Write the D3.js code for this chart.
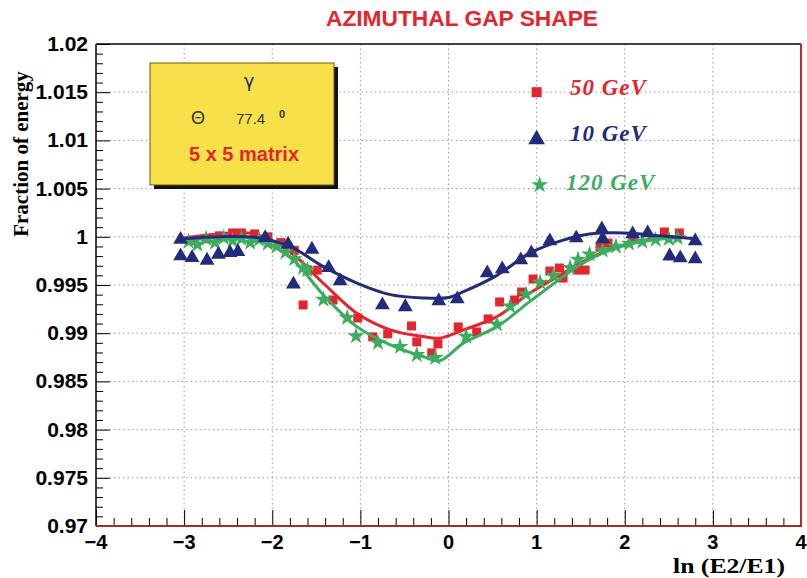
<!DOCTYPE html>
<html><head><meta charset="utf-8">
<script src="https://cdn.jsdelivr.net/npm/d3@7"></script>
<style>body{margin:0;background:#fff}svg{display:block}</style>
</head><body><svg id="c" width="807" height="578"></svg>
<script>
const xTicks = [-4,-3,-2,-1,0,1,2,3,4];
const yTicks = [0.97,0.975,0.98,0.985,0.99,0.995,1,1.005,1.01,1.015,1.02];
const yTickLabels = ["0.97","0.975","0.98","0.985","0.99","0.995","1","1.005","1.01","1.015","1.02"];

// 10 GeV (blue triangles)
const blueX = [-3.04,-3.04,-2.91,-2.74,-2.61,-2.48,-2.39,-2.08,-1.82,-1.76,-1.55,-1.36,-1.23,-0.75,-0.49,-0.11,0.10,0.44,0.61,0.82,0.94,1.15,1.45,1.74,1.75,2.09,2.26,2.51,2.63,2.80,2.80];
const blueY = [0.99983,0.99811,0.99793,0.99766,0.99828,0.99845,0.99855,1.0000,0.99932,0.99518,0.9988,0.9969,0.99552,0.99303,0.99283,0.99345,0.99365,0.99635,0.99676,0.99769,0.99842,0.99966,0.99997,1.0009,0.99987,1.0004,1.0005,0.9981,0.9979,0.99966,0.9978];
const blueFitX = [-3.0,-2.6,-2.2,-1.8,-1.42,-1.04,-0.66,-0.29,0.0,0.17,0.55,0.92,1.3,1.6,2.0,2.4,2.8];
const blueFitY = [0.9998,1.0000,0.99995,0.9990,0.9969,0.9952,0.9940,0.99365,0.9937,0.9943,0.9960,0.9983,0.99966,1.0003,1.0004,1.0001,0.9998];

// 50 GeV (red squares)
const redX = [-2.9,-2.75,-2.6,-2.45,-2.35,-2.2,-2.05,-1.9,-1.75,-1.65,-1.6,-1.49,-1.31,-1.03,-0.86,-0.69,-0.42,-0.36,-0.19,-0.12,0.11,0.32,0.45,0.58,0.75,0.83,0.96,1.15,1.26,1.30,1.46,1.55,1.72,1.81,2.1,2.45,2.62];
const redY = [0.9996,0.9998,1.0001,1.0004,1.0004,1.0003,1.0000,0.9994,0.9986,0.99293,0.99655,0.99655,0.99345,0.99158,0.98962,0.98993,0.99075,0.9891,0.98796,0.98889,0.99065,0.99013,0.99148,0.99324,0.99345,0.99427,0.99562,0.99645,0.99676,0.99572,0.99655,0.99655,0.99893,0.99935,0.9999,1.0005,1.0004];
const redFitX = [-3.0,-2.6,-2.2,-1.8,-1.42,-1.04,-0.66,-0.29,-0.10,0.17,0.55,0.92,1.30,1.49,1.8,2.2,2.6];
const redFitY = [0.9999,1.0003,1.0003,0.99845,0.99518,0.99207,0.99034,0.98965,0.98948,0.99034,0.99172,0.99414,0.99621,0.99725,0.9986,0.9996,1.0000];

// 120 GeV (green stars)
const greenX = [-2.95,-2.85,-2.75,-2.65,-2.55,-2.45,-2.35,-2.25,-2.15,-2.05,-1.95,-1.85,-1.75,-1.65,-1.6,-1.42,-1.15,-1.05,-0.8,-0.55,-0.36,-0.15,0.2,0.55,0.7,0.88,1.04,1.19,1.38,1.47,1.6,1.75,1.9,2.05,2.2,2.35,2.5,2.6];
const greenY = [0.9995,0.9992,0.9998,0.9994,0.9999,0.9996,0.9998,0.9994,0.9997,0.9993,0.9990,0.9984,0.9977,0.9968,0.99655,0.9935,0.9916,0.9897,0.9890,0.9886,0.98775,0.98745,0.98965,0.99092,0.99279,0.99403,0.99527,0.99596,0.99679,0.99765,0.9982,0.9986,0.9990,0.9993,0.9995,0.9997,0.9998,0.9999];
const greenFitX = [-3.0,-2.6,-2.2,-1.8,-1.42,-1.04,-0.66,-0.29,-0.10,0.17,0.55,0.92,1.30,1.49,1.8,2.2,2.6];
const greenFitY = [0.9996,0.9999,0.9998,0.99793,0.99397,0.99068,0.98879,0.98758,0.98715,0.98897,0.99068,0.99327,0.99586,0.99707,0.9985,0.9995,0.9999];

const legendLabels = ["50 GeV","10 GeV","120 GeV"];

const RED = "#e3262d", BLUE = "#232c7c", GREEN = "#3cad5e";
const svg = d3.select("#c");
const L = 96, R = 801, T = 44, B = 526;
const x = d3.scaleLinear().domain([-4,4]).range([L,R]);
const y = d3.scaleLinear().domain([0.97,1.02]).range([B,T]);

// grid
const g = svg.append("g");
g.selectAll("line.gx").data(xTicks.slice(1,-1)).join("line")
  .attr("x1",d=>x(d)).attr("x2",d=>x(d)).attr("y1",T).attr("y2",B)
  .attr("stroke","#9a9a9a").attr("stroke-width",1).attr("stroke-dasharray","1.5,3");
g.selectAll("line.gy").data(yTicks.slice(1,-1)).join("line")
  .attr("x1",L).attr("x2",R).attr("y1",d=>y(d)).attr("y2",d=>y(d))
  .attr("stroke","#9a9a9a").attr("stroke-width",1).attr("stroke-dasharray","1.5,3");

// axes
const xAxis = d3.axisBottom(x).tickValues(d3.range(-4,4.001,0.2)).tickSize(-8).tickFormat("");
svg.append("g").attr("transform",`translate(0,${B})`).call(xAxis)
  .call(s=>s.select(".domain").remove())
  .call(s=>s.selectAll(".tick line").attr("stroke","#000").attr("y2",(d)=>Math.abs(d-Math.round(d))<1e-6?-16:-8));
const yAxis = d3.axisLeft(y).tickValues(d3.range(0.97,1.0201,0.001)).tickSize(-7).tickFormat("");
svg.append("g").attr("transform",`translate(${L},0)`).call(yAxis)
  .call(s=>s.select(".domain").remove())
  .call(s=>s.selectAll(".tick line").attr("stroke","#000").attr("x2",(d)=>Math.abs(d*200-Math.round(d*200))<1e-6?14:7));

svg.append("line").attr("x1",L).attr("x2",R).attr("y1",T).attr("y2",T).attr("stroke","#000").attr("stroke-width",1.5);
svg.append("line").attr("x1",L).attr("x2",L).attr("y1",T).attr("y2",B).attr("stroke","#000").attr("stroke-width",1.5);
svg.append("line").attr("x1",R).attr("x2",R).attr("y1",T).attr("y2",B+1).attr("stroke","#c0282e").attr("stroke-width",2);
svg.append("line").attr("x1",L).attr("x2",R+1).attr("y1",B).attr("y2",B).attr("stroke","#a52a2a").attr("stroke-width",2);

// tick labels
svg.selectAll("text.xl").data(xTicks).join("text")
  .attr("x",d=>x(d)).attr("y",B+23).attr("text-anchor","middle")
  .attr("font-family","Liberation Sans, Arial, sans-serif").attr("font-weight","bold").attr("font-size",20)
  .text(d=>d<0?"\u2212"+Math.abs(d):d);
svg.selectAll("text.yl").data(yTicks).join("text")
  .attr("x",L-8).attr("y",(d)=>y(d)+7).attr("text-anchor","end")
  .attr("font-family","Liberation Sans, Arial, sans-serif").attr("font-weight","bold").attr("font-size",21)
  .text((d,i)=>yTickLabels[i]);

// axis titles
svg.append("text").attr("x",785).attr("y",573).attr("text-anchor","end")
  .attr("font-family","Liberation Serif, Times New Roman, serif").attr("font-weight","bold").attr("font-size",20)
  .attr("textLength",112).attr("lengthAdjust","spacingAndGlyphs")
  .text("ln (E2/E1)");
svg.append("text").attr("transform","translate(28,154) rotate(-90)").attr("text-anchor","middle")
  .attr("font-family","Liberation Serif, Times New Roman, serif").attr("font-weight","bold").attr("font-size",21)
  .text("Fraction of energy");

// title
svg.append("text").attr("x",462).attr("y",26).attr("text-anchor","middle")
  .attr("font-family","Liberation Sans Narrow, Arial Narrow, Liberation Sans, sans-serif").attr("font-weight","bold").attr("font-size",22)
  .attr("textLength",272).attr("lengthAdjust","spacingAndGlyphs")
  .attr("fill",RED).text("AZIMUTHAL GAP SHAPE");

// data
const line = d3.line().x(d=>x(d[0])).y(d=>y(d[1])).curve(d3.curveCatmullRom.alpha(0.5));
const zip = (a,b)=>a.map((v,i)=>[v,b[i]]);
const star = d3.symbol().type(d3.symbolStar).size(90);
const tri = d3.symbol().type(d3.symbolTriangle).size(95);

svg.selectAll("rect.r").data(zip(redX,redY)).join("rect")
  .attr("x",d=>x(d[0])-4.5).attr("y",d=>y(d[1])-4.5).attr("width",9).attr("height",9).attr("fill",RED);
svg.append("path").attr("d",line(zip(redFitX,redFitY))).attr("fill","none").attr("stroke",RED).attr("stroke-width",3);

svg.selectAll("path.g").data(zip(greenX,greenY)).join("path")
  .attr("transform",d=>`translate(${x(d[0])},${y(d[1])})`).attr("d",star).attr("fill",GREEN);
svg.append("path").attr("d",line(zip(greenFitX,greenFitY))).attr("fill","none").attr("stroke",GREEN).attr("stroke-width",3);

svg.selectAll("path.b").data(zip(blueX,blueY)).join("path")
  .attr("transform",d=>`translate(${x(d[0])},${y(d[1])+1})`).attr("d",tri).attr("fill",BLUE);
svg.append("path").attr("d",line(zip(blueFitX,blueFitY))).attr("fill","none").attr("stroke",BLUE).attr("stroke-width",3);

// legend markers
const lx = x(1);
const legY = [1.0150,1.0101,1.00537];
svg.append("rect").attr("x",lx-5).attr("y",y(legY[0])-5).attr("width",10).attr("height",10).attr("fill",RED);
svg.append("path").attr("transform",`translate(${lx},${y(legY[1])})`).attr("d",d3.symbol().type(d3.symbolTriangle).size(120)).attr("fill",BLUE);
svg.append("path").attr("transform",`translate(${lx+3},${y(legY[2])})`).attr("d",star).attr("fill",GREEN);
const legColors = [RED,BLUE,GREEN];
const legTextY = [95,141,190];
svg.selectAll("text.leg").data(legendLabels).join("text")
  .attr("x",(d,i)=>i===2?566:570).attr("y",(d,i)=>legTextY[i])
  .attr("font-family","Liberation Serif, Times New Roman, serif").attr("font-weight","bold").attr("font-style","italic").attr("font-size",23)
  .attr("letter-spacing",1)
  .attr("fill",(d,i)=>legColors[i]).text(d=>d);

// info box
svg.append("rect").attr("x",154).attr("y",67).attr("width",184).attr("height",122).attr("fill","#111");
svg.append("rect").attr("x",150).attr("y",63).attr("width",184).attr("height",122).attr("fill","#f7e04a").attr("stroke","#6b5a10").attr("stroke-width",1);
svg.append("text").attr("x",249).attr("y",87).attr("text-anchor","middle").attr("font-family","DejaVu Sans, sans-serif").attr("font-size",18).attr("fill","#2a2f6a").text("\u03b3");
svg.append("text").attr("x",198).attr("y",124).attr("text-anchor","middle").attr("font-family","Liberation Sans, Arial, sans-serif").attr("font-size",18).attr("fill","#333").text("\u0398");
svg.append("text").attr("x",236).attr("y",124).attr("font-family","Liberation Sans, Arial, sans-serif").attr("font-size",15).attr("fill","#333").text("77.4");
svg.append("text").attr("x",279).attr("y",118).attr("font-family","Liberation Sans, Arial, sans-serif").attr("font-weight","bold").attr("font-size",11).attr("fill","#333").text("0");
svg.append("text").attr("x",244).attr("y",161).attr("text-anchor","middle").attr("font-family","Liberation Sans, Arial, sans-serif").attr("font-weight","bold").attr("font-size",20).attr("fill",RED).text("5 x 5 matrix");
</script></body></html>
